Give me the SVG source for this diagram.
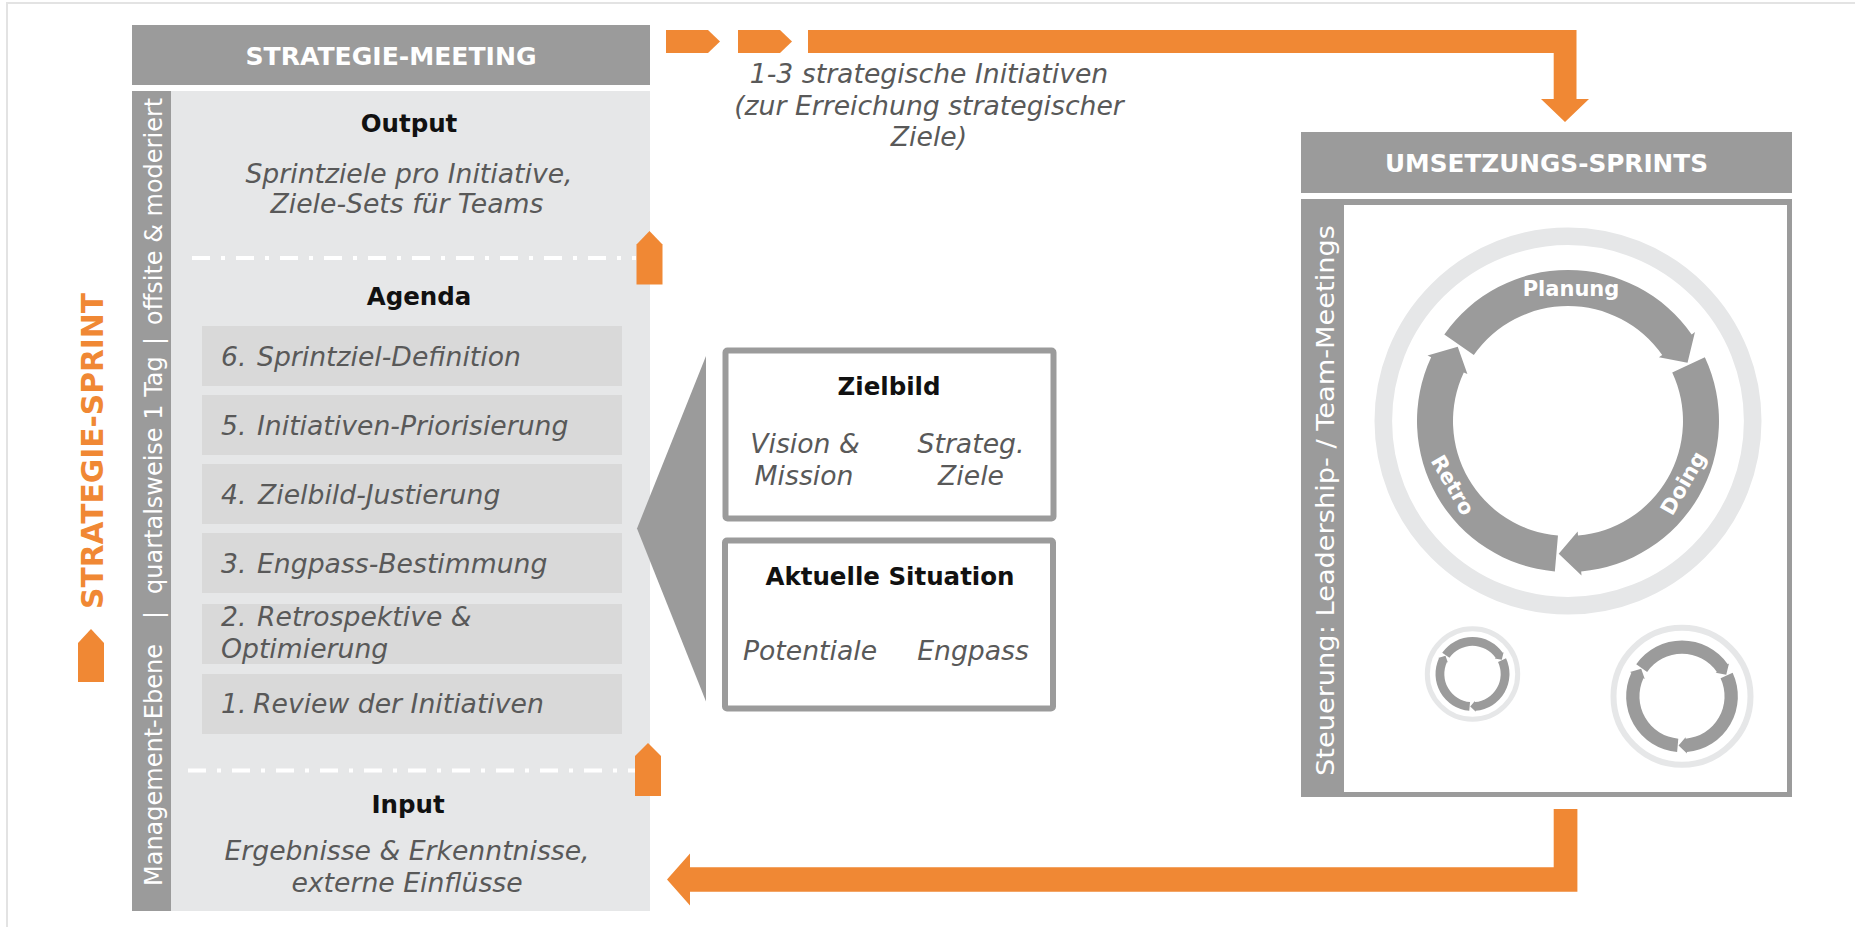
<svg xmlns="http://www.w3.org/2000/svg" width="1855" height="927" viewBox="0 0 1855 927">
<defs>
<style>
text{font-family:"DejaVu Sans","Liberation Sans",sans-serif}
.h{font-weight:bold;font-size:24.5px;fill:#111;text-anchor:middle}
.bar{font-weight:bold;font-size:24.5px;fill:#fff;text-anchor:middle}
.it{font-style:italic;font-size:26.67px;fill:#595959}
.c{text-anchor:middle}
.or{fill:#F08834}
.dd{stroke:#fff;stroke-width:4;stroke-dasharray:18 11 4 11;fill:none}
.cyc{fill:#9B9B9B}
.ring{fill:none;stroke:#E6E7E8}
.box{fill:#fff;stroke:#9B9B9B;stroke-width:6}
.lbl{font-weight:bold;font-size:21px;fill:#fff;text-anchor:middle}
.strip{font-size:24px;fill:#fff}
</style>
<path id="seg" d="M-94.20,-65.96 L-123.69,-86.61 A151,151 0 0 1 123.69,-86.61 L126.97,-88.90 L119.54,-58.30 L90.93,-63.67 L94.20,-65.96 A115,115 0 0 0 -94.20,-65.96 Z"/>
<g id="cycle" class="cyc">
<use href="#seg"/>
<use href="#seg" transform="rotate(120)"/>
<use href="#seg" transform="rotate(240)"/>
</g>
</defs>
<rect x="7" y="3" width="1870" height="950" fill="#fff" stroke="#E3E3E3" stroke-width="2"/>

<g id="strategie-sprint-label">
<text transform="translate(103,609) rotate(-90)" font-weight="bold" font-size="30" class="or" textLength="316" lengthAdjust="spacingAndGlyphs">STRATEGIE-SPRINT</text>
<polygon class="or" points="78,682 78,643 91,629 104,643 104,682"/>
</g>

<g id="strategie-meeting">
<rect x="132" y="25" width="518" height="60" fill="#9B9B9B"/>
<text class="bar" x="391" y="64.5" textLength="291" lengthAdjust="spacingAndGlyphs">STRATEGIE-MEETING</text>
</g>

<g id="strategie-panel">
<rect x="132" y="91" width="39" height="820" fill="#9B9B9B"/>
<rect x="171" y="91" width="479" height="820" fill="#E6E7E8"/>
<text class="strip" transform="translate(161.5,886) rotate(-90)"><tspan x="0" y="0">Management-Ebene</tspan><tspan x="267" y="0">|</tspan><tspan x="292" y="0">quartalsweise 1 Tag</tspan><tspan x="541" y="0">|</tspan><tspan x="561" y="0">offsite &amp; moderiert</tspan></text>
</g>

<g id="output">
<text class="h" x="409" y="132">Output</text>
<text class="it c" x="409" y="183">Sprintziele pro Initiative,</text>
<text class="it c" x="407" y="213">Ziele-Sets für Teams</text>
</g>

<g id="agenda">
<text class="h" x="419" y="305">Agenda</text>
<rect x="202" y="326" width="420" height="60" fill="#D9D9D9"/>
<rect x="202" y="395" width="420" height="60" fill="#D9D9D9"/>
<rect x="202" y="464" width="420" height="60" fill="#D9D9D9"/>
<rect x="202" y="533" width="420" height="60" fill="#D9D9D9"/>
<rect x="202" y="604" width="420" height="60" fill="#D9D9D9"/>
<rect x="202" y="674" width="420" height="60" fill="#D9D9D9"/>
<text class="it"><tspan x="221" y="366">6.</tspan><tspan x="257" y="366">Sprintziel-Definition</tspan></text>
<text class="it"><tspan x="221" y="434.5">5.</tspan><tspan x="257" y="434.5">Initiativen-Priorisierung</tspan></text>
<text class="it"><tspan x="221" y="503.5">4.</tspan><tspan x="258" y="503.5">Zielbild-Justierung</tspan></text>
<text class="it"><tspan x="221" y="572.5">3.</tspan><tspan x="257" y="572.5">Engpass-Bestimmung</tspan></text>
<text class="it"><tspan x="221" y="626">2.</tspan><tspan x="257" y="626">Retrospektive &amp;</tspan><tspan x="221" y="658">Optimierung</tspan></text>
<text class="it"><tspan x="221" y="713">1.</tspan><tspan x="253" y="713">Review der Initiativen</tspan></text>
</g>

<g id="input">
<text class="h" x="408" y="813">Input</text>
<text class="it c" x="407" y="860">Ergebnisse &amp; Erkenntnisse,</text>
<text class="it c" x="407" y="891.5">externe Einflüsse</text>
</g>

<g id="trenner">
<line class="dd" x1="192" y1="258" x2="636" y2="258"/>
<line class="dd" x1="188" y1="770.5" x2="636" y2="770.5"/>
</g>

<g id="funnel">
<polygon points="706,356 637,528.5 706,701.5" fill="#9B9B9B"/>
</g>

<g id="zielbild">
<rect class="box" x="725.5" y="350.5" width="328" height="168" rx="2"/>
<text class="h" x="889" y="395">Zielbild</text>
<text class="it c" x="805" y="453">Vision &amp;</text>
<text class="it c" x="804" y="485">Mission</text>
<text class="it c" x="971" y="453">Strateg.</text>
<text class="it c" x="971" y="485">Ziele</text>
</g>

<g id="aktuelle-situation">
<rect class="box" x="725" y="540.5" width="328" height="168" rx="2"/>
<text class="h" x="890" y="585">Aktuelle Situation</text>
<text class="it c" x="810" y="660">Potentiale</text>
<text class="it c" x="973" y="660">Engpass</text>
</g>

<g id="umsetzungs-sprints">
<rect x="1301" y="132" width="491" height="61" fill="#9B9B9B"/>
<text class="bar" x="1546.5" y="171.5" textLength="323" lengthAdjust="spacingAndGlyphs">UMSETZUNGS-SPRINTS</text>
<rect x="1301" y="199" width="491" height="598" fill="#9B9B9B"/>
<rect x="1344" y="205" width="443" height="587" fill="#fff"/>
<text class="strip" font-size="26.5" transform="translate(1334,776) rotate(-90)" textLength="551" lengthAdjust="spacingAndGlyphs">Steuerung: Leadership- / Team-Meetings</text>
</g>

<g id="zyklus-gross">
<circle class="ring" cx="1568" cy="421" r="184.7" stroke-width="17.6"/>
<use href="#cycle" transform="translate(1568,421)"/>
<text class="lbl" x="1571" y="296">Planung</text>
<text class="lbl" transform="translate(1683,483) rotate(-60)" y="7.5">Doing</text>
<text class="lbl" transform="translate(1453,485) rotate(60)" y="7.5">Retro</text>
</g>

<g id="zyklus-klein-1">
<circle class="ring" cx="1472.5" cy="674" r="45.2" stroke-width="5"/>
<use href="#cycle" transform="translate(1472.5,674) scale(0.245)"/>
</g>

<g id="zyklus-klein-2">
<circle class="ring" cx="1682" cy="696.3" r="68.5" stroke-width="6"/>
<use href="#cycle" transform="translate(1682,696.3) scale(0.37)"/>
</g>

<g id="connectors">
<polygon class="or" points="666,30 708,30 720,41.5 708,53 666,53"/>
<polygon class="or" points="738,30 780,30 792,41.5 780,53 738,53"/>
<polygon class="or" points="808,30 1576.5,30 1576.5,99 1589,99 1565,122 1541,99 1553.7,99 1553.7,53 808,53"/>
<text class="it c" x="929" y="82.5">1-3 strategische Initiativen</text>
<text class="it c" x="929" y="114.5">(zur Erreichung strategischer</text>
<text class="it c" x="929" y="146">Ziele)</text>
<polygon class="or" points="1553.7,809 1577.4,809 1577.4,891.7 690,891.7 690,905.5 667,879.5 690,853.5 690,867.3 1553.7,867.3"/>
<polygon class="or" points="636.5,284.5 636.5,244.5 649.5,231 662.5,244.5 662.5,284.5"/>
<polygon class="or" points="635,796 635,756 648,743 661,756 661,796"/>
</g>
</svg>
